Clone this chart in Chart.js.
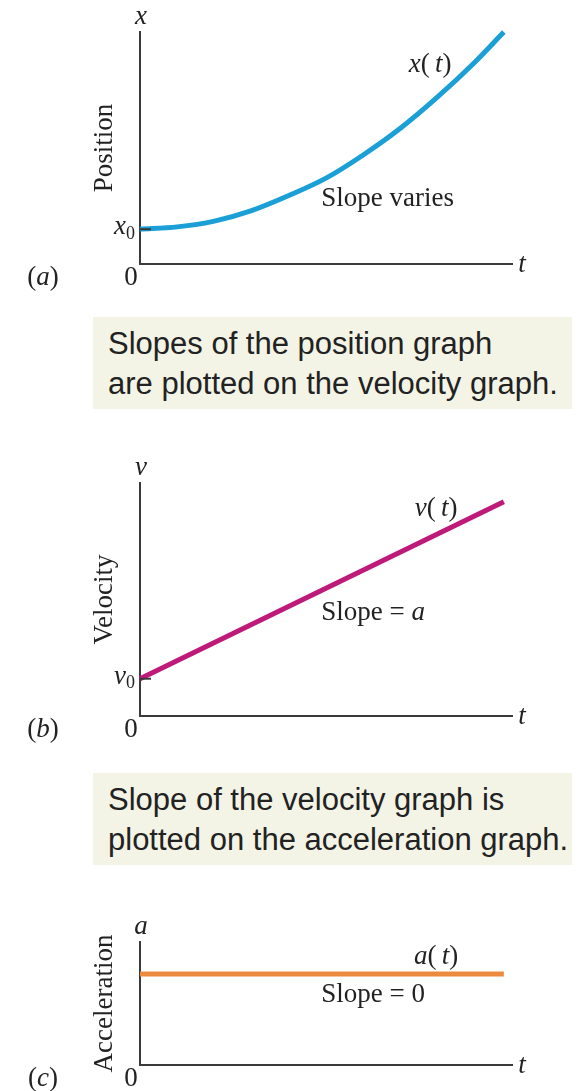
<!DOCTYPE html>
<html>
<head>
<meta charset="utf-8">
<title>Position, velocity and acceleration</title>
<script src="https://cdn.jsdelivr.net/npm/chart.js@4.4.1/dist/chart.umd.min.js"></script>
<style>
  body { margin: 0; background: #fff; }
  .wrap { position: relative; width: 577px; height: 1091px; }
  canvas { position: absolute; left: 0; }
  .note {
    position: absolute;
    left: 93px;
    width: 464px;
    height: 85px;
    padding: 7px 0 0 15px;
    background: #f3f4e6;
    font: 31px/40px "Liberation Sans", Arial, sans-serif;
    color: #222;
  }
</style>
</head>
<body>
<div class="wrap">
  <canvas id="positionChart" width="577" height="300" style="top:0"></canvas>
  <div class="note" style="top:317px">Slopes of the position graph<br>are plotted on the velocity graph.</div>
  <canvas id="velocityChart" width="577" height="340" style="top:420px"></canvas>
  <div class="note" style="top:773px">Slope of the velocity graph is<br>plotted on the acceleration graph.</div>
  <canvas id="accelerationChart" width="577" height="211" style="top:880px"></canvas>
</div>

<script>
// time axis runs 0..10 on every panel, value axes too
const timePos = [0, 1, 2, 3, 4, 5, 6, 7, 8, 9, 9.78];
const position = [1.5, 1.6, 1.85, 2.3, 2.95, 3.7, 4.7, 5.85, 7.2, 8.7, 10];

const timeVel = [0, 9.78];
const velocity = [1.6, 9.2];

const timeAcc = [0, 9.78];
const acceleration = [7.4, 7.4];

const axisColor = "#3a3a3a";
const textColor = "#222";
const serif = '"Liberation Serif", "Times New Roman", serif';

// draw a row of text pieces: [text, style] with style r = roman, i = italic, s = subscript
function drawRuns(ctx, runs, x, y, align) {
  const fontFor = (s) => s === "i" ? "italic 27px " + serif : s === "s" ? "18px " + serif : "27px " + serif;
  let total = 0;
  runs.forEach(([t, s]) => { ctx.font = fontFor(s); total += ctx.measureText(t).width; });
  let cx = align === "center" ? x - total / 2 : align === "right" ? x - total : x;
  ctx.textAlign = "left";
  ctx.textBaseline = "middle";
  runs.forEach(([t, s]) => {
    ctx.font = fontFor(s);
    ctx.fillText(t, cx, s === "s" ? y + 7 : y);
    cx += ctx.measureText(t).width;
  });
}

const panelText = {
  id: "panelText",
  afterDraw(chart) {
    const o = chart.options.plugins.panelText;
    const { ctx, chartArea: a, scales } = chart;
    const xs = scales.x, ys = scales.y;
    ctx.save();
    ctx.fillStyle = textColor;

    // axis names and origin
    drawRuns(ctx, [[o.varName, "i"]], a.left + 1, a.top - 15, "center");
    drawRuns(ctx, [["t", "i"]], a.right + 10, a.bottom + 1, "center");
    drawRuns(ctx, [["0", "r"]], a.left - 9, a.bottom + 14, "center");
    drawRuns(ctx, [["(", "r"], [o.letter, "i"], [")", "r"]], a.left - 97, a.bottom + 14, "center");

    // starting value tick on the vertical axis
    if (o.start !== null) {
      const py = ys.getPixelForValue(o.start);
      ctx.strokeStyle = axisColor;
      ctx.lineWidth = 2;
      ctx.beginPath();
      ctx.moveTo(a.left, py);
      ctx.lineTo(a.left + 11, py);
      ctx.stroke();
      drawRuns(ctx, [[o.varName, "i"], ["0", "s"]], a.left - 5, py - 2, "right");
    }

    drawRuns(ctx, o.curveLabel, xs.getPixelForValue(o.curveAt[0]), ys.getPixelForValue(o.curveAt[1]), "center");
    drawRuns(ctx, o.slopeLabel, xs.getPixelForValue(o.slopeAt[0]), ys.getPixelForValue(o.slopeAt[1]), "left");

    // rotated quantity name
    ctx.translate(a.left - 35, (a.top + a.bottom) / 2);
    ctx.rotate(-Math.PI / 2);
    ctx.font = "27px " + serif;
    ctx.textAlign = "center";
    ctx.textBaseline = "middle";
    ctx.fillText(o.title, 0, 0);
    ctx.restore();
  }
};

function axis() {
  return {
    type: "linear",
    min: 0,
    max: 10,
    ticks: { display: false },
    grid: { display: false, drawTicks: false },
    border: { display: true, color: axisColor, width: 2 },
  };
}

function makePanel(id, times, values, color, padding, notes) {
  return new Chart(document.getElementById(id), {
    type: "line",
    data: {
      datasets: [
        {
          data: times.map((t, i) => ({ x: t, y: values[i] })),
          borderColor: color,
          borderWidth: 5,
          borderCapStyle: "butt",
          pointRadius: 0,
          cubicInterpolationMode: "monotone",
          clip: false,
        },
      ],
    },
    options: {
      responsive: false,
      animation: false,
      events: [],
      layout: { padding },
      scales: { x: axis(), y: axis() },
      plugins: {
        legend: { display: false },
        tooltip: { enabled: false },
        panelText: notes,
      },
    },
    plugins: [panelText],
  });
}

const thin = "\u2009";

makePanel("positionChart", timePos, position, "#1a9fd6",
  { left: 140, top: 32, right: 65, bottom: 36 },
  {
    letter: "a", varName: "x", title: "Position", start: position[0],
    curveLabel: [["x", "i"], ["(" + thin, "r"], ["t", "i"], [")", "r"]], curveAt: [7.8, 8.6],
    slopeLabel: [["Slope varies", "r"]], slopeAt: [4.87, 2.8],
  });

makePanel("velocityChart", timeVel, velocity, "#bd1a7a",
  { left: 140, top: 63, right: 65, bottom: 44 },
  {
    letter: "b", varName: "v", title: "Velocity", start: velocity[0],
    curveLabel: [["v", "i"], ["(" + thin, "r"], ["t", "i"], [")", "r"]], curveAt: [7.96, 8.88],
    slopeLabel: [["Slope = ", "r"], ["a", "i"]], slopeAt: [4.87, 4.42],
  });

makePanel("accelerationChart", timeAcc, acceleration, "#ec8a3d",
  { left: 140, top: 62, right: 65, bottom: 26 },
  {
    letter: "c", varName: "a", title: "Acceleration", start: null,
    curveLabel: [["a", "i"], ["(" + thin, "r"], ["t", "i"], [")", "r"]], curveAt: [7.96, 8.78],
    slopeLabel: [["Slope = 0", "r"]], slopeAt: [4.87, 5.69],
  });
</script>
</body>
</html>
